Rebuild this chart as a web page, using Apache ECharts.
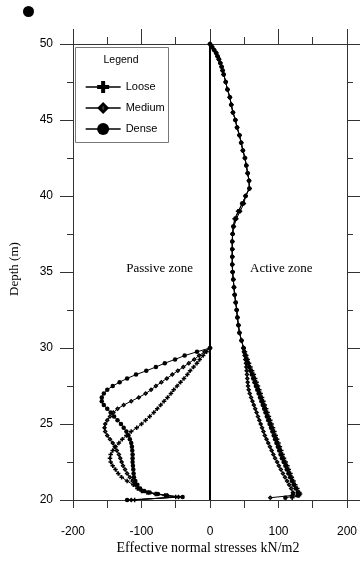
<!DOCTYPE html>
<html>
<head>
<meta charset="utf-8">
<script src="https://cdn.jsdelivr.net/npm/echarts@6/dist/echarts.min.js"></script>
<style>
html,body{margin:0;padding:0;background:#fff;}
#c{width:360px;height:562px;}
</style>
</head>
<body>
<div id="c"></div>
<script>
// ---- data ----
const seriesNames = ['Loose', 'Medium', 'Dense'];
const xTicks = [-200, -100, 0, 100, 200];
const yTicks = [20, 25, 30, 35, 40, 45, 50];

const activeDepth = [50,49.8,49.6,49.4,49.2,49,48.75,48.5,48.25,48,
  47.5,47,46.5,46,45.5,45,44.5,44,43.5,43,
  42.5,42,41.5,41,40.5,40,39.5,39,38.5,38,
  37.5,37,36.5,36,35.5,35,34.5,34,33.5,33,
  32.5,32,31.5,31,30.5,30,
  29.75,29.5,29.25,29,28.75,28.5,28.25,28,27.75,27.5,
  27.25,27,26.75,26.5,26.25,26,25.75,25.5,25.25,25,
  24.75,24.5,24.25,24,23.75,23.5,23.25,23,22.75,22.5,
  22.25,22,21.75,21.5,21.25,21,20.75,20.5,20.4,20.3,
  20.15];

const looseActive = [0,3,6,9,11,13,15,17,18.5,20,
  23,25.5,29,31,33.5,37,39.5,43,45.5,48,
  51,53,55,57,57.5,52,47,41,36,34,
  33,32.5,32.5,32.5,32.5,33,34,35,36,37.5,
  39,40,41.5,43,46,49,
  51,53,55,57,59,61.5,64,66,68,70,
  72,74,76,78,80,82,84,86,88,90,
  92,94,96,98,100,102,104,106,108,110.5,
  113,115,117.5,119.5,122,124.5,127.5,130.5,131.5,130,
  120];

const mediumActive = [0,3,6,9,11,13,15,17,18.5,20,
  23,25.5,29,31,33.5,37,39.5,43,45.5,48,
  51,53,55,57,57.5,52,49.5,44,38.5,35,
  33,32.5,32.5,32.5,32.5,33,34,35,36,37.5,
  39,40,41.5,43,46,49,
  49.5,50.5,51.5,52.5,53,53.5,54,54.5,55,55.5,
  56.5,58,60,62,64,66,68,70,72,74,
  76,78,80,82.5,85,87.5,90,92.5,95,98,
  100.5,103.5,106.5,109.5,112.5,115.5,118.5,121,121.5,120,
  88];

const denseActive = [0,3,6,9,11,13,15,17,18.5,20,
  23,25.5,29,31,33.5,37,39.5,43,45.5,48,
  51,53,55,57,57.5,52,47,42,37,34,
  33,32.5,32.5,32.5,32.5,33,34,35,36,37.5,
  39,40,41.5,43,46,49,
  50,52,53.5,55,57,59,61,63,65,67,
  69,71,73,75,77,79,81,83,85,87,
  89,91,93,95,97,99,101,103,105,107.5,
  110,112,114.5,117,119.5,122,125,128,129.5,128,
  110];

const passiveDepth = [30,29.75,29.5,29.25,29,28.75,28.5,28.25,28,27.75,
  27.5,27.25,27,26.75,26.5,26.25,26,25.75,25.5,25.25,
  25,24.75,24.5,24.25,24,23.75,23.5,23.25,23,22.75,
  22.5,22.25,22,21.75,21.5,21.25,21,
  20.75,20.6,20.5,20.4,20.3,20.2,20];

const loosePassive = [0,-5,-10,-15,-19,-24,-29,-33,-38,-43,
  -48,-53,-57,-62,-67,-72,-77,-82,-88,-94,
  -100,-107,-115,-122,-128,-133,-138,-142,-145,-146,
  -145,-142,-138,-134,-129,-121,-112,
  -106,-100,-92,-80,-66,-50,-110];

const mediumPassive = [0,-8,-16,-23,-31,-39,-47,-55,-63,-71,
  -79,-86,-94,-104,-115,-126,-135,-141,-146,-150,
  -153,-154,-153,-150,-146,-142,-139,-136,-133,-131,
  -129,-127,-124,-121,-117,-113,-109,
  -104,-98,-90,-78,-62,-46,-115];

const densePassive = [0,-19,-37,-51,-66,-79,-93,-108,-121,-132,
  -142,-150,-155,-158,-158,-155,-150,-145,-140,-135,
  -130,-126,-122,-119,-117,-115,-114,-113.5,-113,-113,
  -113,-112.5,-112,-111.5,-111,-109,-106,
  -102,-96,-88,-76,-64,-40,-121];

const zeroLineX = [0, 0];
const zeroLineDepth = [20, 50];

// ---- chart ----
const plus = 'path://M4,0H8V4H12V8H8V12H4V8H0V4H4Z';
const holedDiamond = 'path://M6,0L12,6L6,12L0,6Z M6,4.6L4.6,6L6,7.4L7.4,6Z';
const symbols = {Loose: plus, Medium: holedDiamond, Dense: 'circle'};
const sizes = {Loose: 4.5, Medium: 5, Dense: 4.5};
const activeVals = {Loose: looseActive, Medium: mediumActive, Dense: denseActive};
const passiveVals = {Loose: loosePassive, Medium: mediumPassive, Dense: densePassive};
const pair = (vals, depths) => vals.map((v, i) => [v, depths[i]]);

const series = [{
  type: 'line', name: 'zero', data: pair(zeroLineX, zeroLineDepth),
  symbol: 'none', silent: true, lineStyle: {color: '#000', width: 2}, z: 1
}];
seriesNames.forEach(n => {
  const common = {
    type: 'line', name: n, symbol: symbols[n],
    symbolSize: sizes[n],
    lineStyle: {color: '#000', width: 1},
    itemStyle: {color: '#000'},
    emphasis: {disabled: true}, animation: false, z: 3
  };
  series.push(Object.assign({}, common, {data: pair(activeVals[n], activeDepth)}));
  series.push(Object.assign({}, common, {data: pair(passiveVals[n], passiveDepth)}));
});

const axisCol = '#333';
const sans = 'Liberation Sans';

const chart = echarts.init(document.getElementById('c'), null, {renderer: 'canvas'});
chart.setOption({
  animation: false,
  backgroundColor: '#fff',
  grid: {left: 73, right: 13, top: 44, bottom: 62, containLabel: false},
  xAxis: [{
    type: 'value', position: 'bottom', min: xTicks[0], max: xTicks[xTicks.length - 1], interval: 100,
    axisLine: {show: true, onZero: false, lineStyle: {color: axisCol, width: 1}},
    axisTick: {show: true, inside: false, length: 8, lineStyle: {color: axisCol}},
    minorTick: {show: true, splitNumber: 2, length: 8, lineStyle: {color: axisCol}},
    splitLine: {show: false},
    axisLabel: {fontFamily: sans, fontSize: 12, color: '#000', margin: 26}
  }, {
    type: 'value', position: 'top', min: xTicks[0], max: xTicks[xTicks.length - 1], interval: 100,
    axisLine: {show: true, onZero: false, lineStyle: {color: axisCol, width: 1}},
    axisTick: {show: true, inside: false, length: 15, lineStyle: {color: axisCol}},
    minorTick: {show: true, splitNumber: 2, length: 7, lineStyle: {color: axisCol}},
    splitLine: {show: false}, axisLabel: {show: false}
  }],
  yAxis: [{
    type: 'value', position: 'left', min: yTicks[0], max: yTicks[yTicks.length - 1], interval: 5,
    axisLine: {show: true, onZero: false, lineStyle: {color: axisCol, width: 1}},
    axisTick: {show: true, inside: false, length: 13, lineStyle: {color: axisCol}},
    minorTick: {show: true, splitNumber: 2, length: 6, lineStyle: {color: axisCol}},
    splitLine: {show: false},
    axisLabel: {fontFamily: sans, fontSize: 12, color: '#000', margin: 20}
  }, {
    type: 'value', position: 'right', min: yTicks[0], max: yTicks[yTicks.length - 1], interval: 5,
    axisLine: {show: true, onZero: false, lineStyle: {color: axisCol, width: 1}},
    axisTick: {show: true, inside: false, length: 13, lineStyle: {color: axisCol}},
    minorTick: {show: true, splitNumber: 2, length: 6, lineStyle: {color: axisCol}},
    splitLine: {show: false}, axisLabel: {show: false}
  }],
  legend: {
    data: seriesNames,
    orient: 'vertical', left: 80, top: 76,
    itemWidth: 35, itemHeight: 15, itemGap: 9, selectedMode: false,
    textStyle: {fontFamily: sans, fontSize: 11, color: '#000'},
    lineStyle: {width: 1.3}, z: 5
  },
  graphic: [
    {type: 'rect', shape: {x: 75.5, y: 47.5, width: 93, height: 95}, style: {fill: '#fff', stroke: '#777', lineWidth: 1}, z: 4},
    {type: 'text', x: 121, y: 60, style: {text: 'Legend', font: '10.5px "Liberation Sans"', fill: '#000', textAlign: 'center', textVerticalAlign: 'middle'}, z: 5},
    {type: 'circle', shape: {cx: 28.5, cy: 11.5, r: 5.5}, style: {fill: '#000'}},
    {type: 'text', x: 193, y: 269, style: {text: 'Passive zone', font: '13px "Liberation Serif"', fill: '#000', textAlign: 'right', textVerticalAlign: 'middle'}},
    {type: 'text', x: 250, y: 269, style: {text: 'Active zone', font: '13px "Liberation Serif"', fill: '#000', textAlign: 'left', textVerticalAlign: 'middle'}},
    {type: 'text', x: 208, y: 548, style: {text: 'Effective normal stresses kN/m2', font: '14px "Liberation Serif"', fill: '#000', textAlign: 'center', textVerticalAlign: 'middle'}},
    {type: 'text', x: 14.5, y: 269, rotation: Math.PI / 2, style: {text: 'Depth (m)', font: '13px "Liberation Serif"', fill: '#000', textAlign: 'center', textVerticalAlign: 'middle'}}
  ],
  series: series
});
</script>
</body>
</html>
